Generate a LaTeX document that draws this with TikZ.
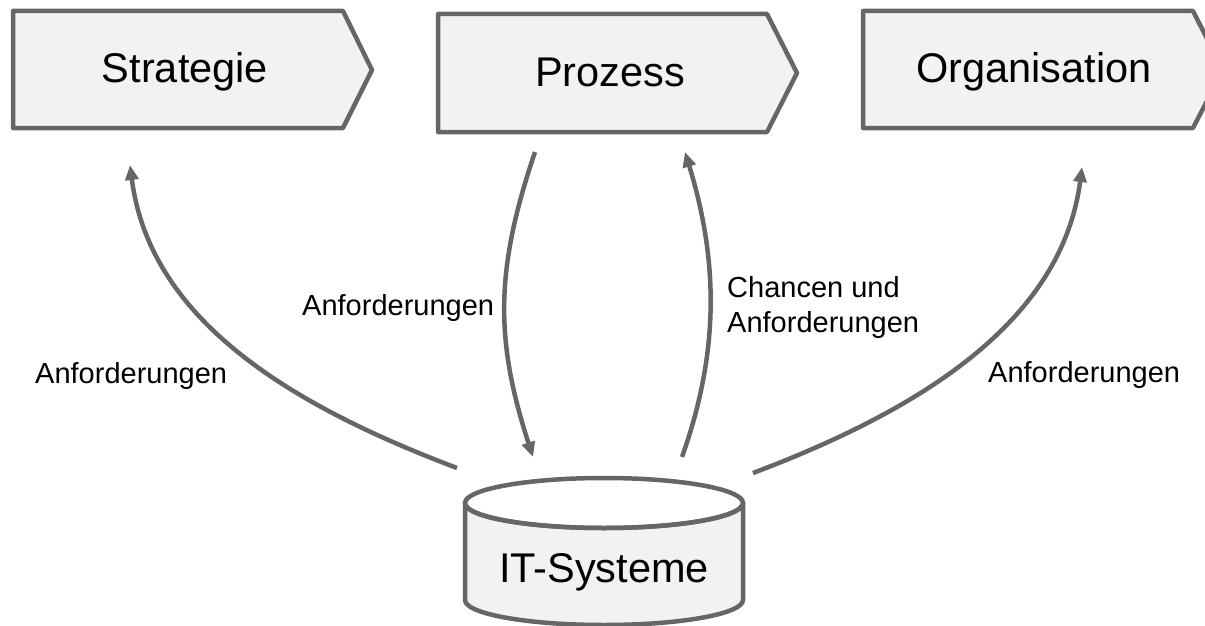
\documentclass[tikz,border=0pt]{standalone}
\usepackage{fontspec}
\setmainfont{Liberation Sans}
\usetikzlibrary{arrows.meta}
\definecolor{edgegray}{HTML}{666666}
\definecolor{boxfill}{HTML}{F2F2F2}
\begin{document}
\begin{tikzpicture}[x=1pt,y=-1pt,
  shapeline/.style={draw=edgegray, fill=boxfill, line width=4.5pt, line join=round},
  bigtext/.style={inner sep=0pt, anchor=base, font=\fontsize{41.5}{50}\selectfont},
  lbl/.style={inner sep=0pt, anchor=base west, font=\fontsize{29}{35}\selectfont},
  conn/.style={draw=edgegray, line width=4.5pt, -{Triangle[length=15pt,width=13pt]}}]
\useasboundingbox (0,0) rectangle (1205,626);
\clip (0,0) rectangle (1205,626);
% chevron boxes
\path[shapeline] (13,11) -- (343,11) -- (372,70) -- (343,128) -- (13,128) -- cycle;
\path[shapeline] (438,14) -- (767,14) -- (797,73) -- (767,132) -- (438,132) -- cycle;
\path[shapeline] (863,11) -- (1193,11) -- (1223,70) -- (1193,128) -- (863,128) -- cycle;
\node[bigtext] (strat) at (185,83) {Strategie};
\node[bigtext] (proz) at (610,87) {Prozess};
\node[bigtext] (org) at (1034,83) {Organisation};
% cylinder
\path[shapeline] (465,503) -- (465,600) arc[start angle=180, end angle=360, x radius=139, y radius=-25] -- (743,503) arc[start angle=0, end angle=-180, x radius=139, y radius=-25] -- cycle;
\draw[draw=edgegray, line width=4.5pt] (604,503) ellipse[x radius=139, y radius=25];
\node[bigtext] (it) at (604,582) {IT-Systeme};
% connector end points
\coordinate (sA) at (457,468);
\coordinate (tA) at (130,165);
\coordinate (sB) at (535,152);
\coordinate (tB) at (533,457);
\coordinate (sC) at (682,457);
\coordinate (tC) at (685,152);
\coordinate (sD) at (753,473);
\coordinate (tD) at (1082,167);
\draw[conn] (sA) .. controls (290,405) and (150,320) .. (tA);
\draw[conn] (sB) .. controls (495,270) and (495,340) .. (tB);
\draw[conn] (sC) .. controls (720,350) and (718,260) .. (tC);
\draw[conn] (sD) .. controls (920,410) and (1062,322) .. (tD);
% labels
\node[lbl] (l1) at (35,383) {Anforderungen};
\node[lbl] (l2) at (302,315) {Anforderungen};
\node[lbl] (l3) at (727,297) {\begin{tabular}[t]{@{}l@{}}Chancen und\\Anforderungen\end{tabular}};
\node[lbl] (l4) at (988,382) {Anforderungen};
\end{tikzpicture}
\end{document}
